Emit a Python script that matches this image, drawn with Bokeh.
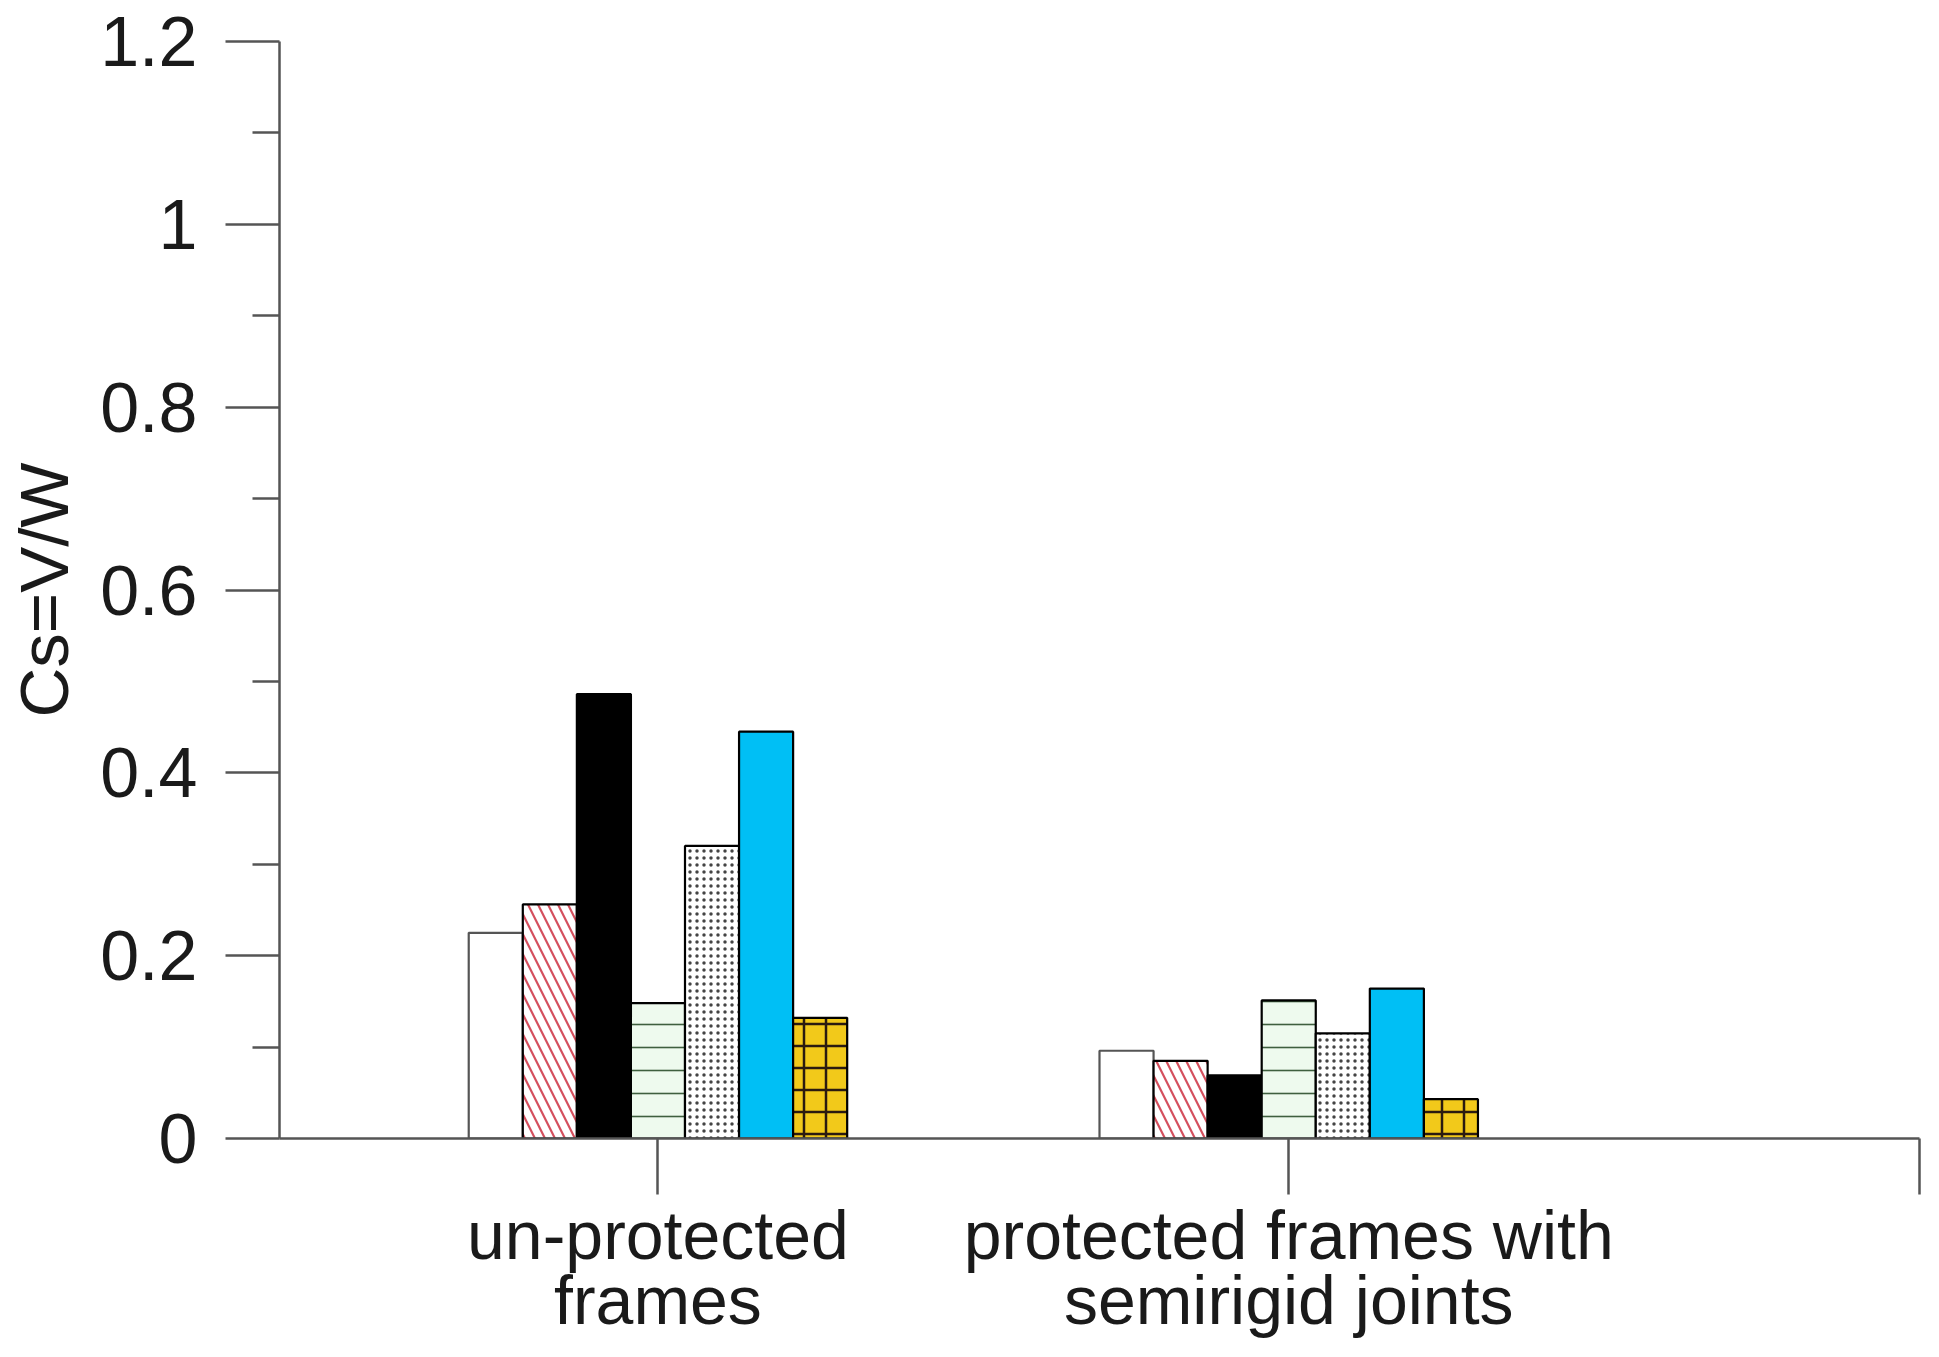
from bokeh.plotting import figure
from bokeh.models import FixedTicker, NumeralTickFormatter, ColumnDataSource, LinearAxis
from bokeh.embed import file_html
from bokeh.resources import INLINE

categories = ["un-protected\nframes", "protected frames with\nsemirigid joints"]
cat_pos = [1, 2]
s1 = [0.225, 0.096]
s2 = [0.256, 0.085]
s3 = [0.486, 0.069]
s4 = [0.148, 0.151]
s5 = [0.320, 0.115]
s6 = [0.445, 0.164]
s7 = [0.132, 0.043]
series = [s1, s2, s3, s4, s5, s6, s7]
y_ticks = [0, 0.2, 0.4, 0.6, 0.8, 1.0, 1.2]
y_minor = [0.1, 0.3, 0.5, 0.7, 0.9, 1.1]
x_ticks = [1, 2, 3]

styles = [
    dict(fill_color="white", line_color="#555555"),
    dict(fill_color="white", hatch_pattern="\\", hatch_color="#d4505e", hatch_scale=20, hatch_weight=2.2),
    dict(fill_color="black"),
    dict(fill_color="#eefaee", hatch_pattern="-", hatch_color="#3f5f3f", hatch_scale=23, hatch_weight=1.6),
    dict(fill_color="white", hatch_pattern=".", hatch_color="#444444", hatch_scale=7, hatch_weight=1.8),
    dict(fill_color="#00bff5"),
    dict(fill_color="#f2c91a", hatch_pattern="+", hatch_color="#2a1a10", hatch_scale=22, hatch_weight=2.5),
]

p = figure(width=1923, height=1341, x_range=(0.4, 3.0), y_range=(0, 1.2),
           output_backend="svg", toolbar_location=None,
           min_border_left=279, min_border_right=4, min_border_top=41, min_border_bottom=203)
p.outline_line_color = None
p.grid.visible = False
p.background_fill_color = "white"

group_w = 0.6
bw = group_w / len(series)
for i, vals in enumerate(series):
    off = (i - (len(series) - 1) / 2) * bw
    src = ColumnDataSource(dict(x=[c + off for c in cat_pos], top=vals))
    st = dict(line_color="black", line_width=2.2)
    st.update(styles[i])
    p.vbar(x="x", top="top", bottom=0, width=bw, source=src, **st)

font = "Liberation Sans"
# y axis
ya = p.yaxis[0]
ya.ticker = FixedTicker(ticks=y_ticks, minor_ticks=y_minor)
ya.formatter = NumeralTickFormatter(format="0.[0]")
ya.axis_label = "Cs=V/W"
ya.axis_label_text_font = font
ya.axis_label_text_font_style = "normal"
ya.axis_label_text_font_size = "69px"
ya.axis_label_text_color = "#1a1a1a"
ya.axis_label_standoff = 14
ya.major_label_text_font = font
ya.major_label_text_font_size = "70px"
ya.major_label_text_color = "#1a1a1a"
ya.major_label_standoff = 28
ya.major_tick_out = 54
ya.major_tick_in = 0
ya.minor_tick_out = 27
ya.minor_tick_in = 0
ya.axis_line_color = "#555555"
ya.axis_line_width = 2.5
ya.major_tick_line_color = "#555555"
ya.major_tick_line_width = 2.5
ya.minor_tick_line_color = "#555555"
ya.minor_tick_line_width = 2.5

line1 = [c.split("\n")[0] for c in categories]
line2 = [c.split("\n")[1] for c in categories]

# x axis: first line of category labels
xa = p.xaxis[0]
xa.ticker = FixedTicker(ticks=x_ticks, minor_ticks=[])
xa.major_label_overrides = {1: line1[0], 2: line1[1], 3: ""}
xa.major_label_text_font = font
xa.major_label_text_font_size = "68px"
xa.major_label_text_color = "#1a1a1a"
xa.major_label_standoff = 2
xa.major_tick_out = 56
xa.major_tick_in = 0
xa.minor_tick_line_color = None
xa.axis_line_color = "#555555"
xa.axis_line_width = 2.5
xa.major_tick_line_color = "#555555"
xa.major_tick_line_width = 2.5

# second line of category labels
xa2 = LinearAxis(ticker=FixedTicker(ticks=cat_pos, minor_ticks=[]),
                 major_label_overrides={1: line2[0], 2: line2[1]})
xa2.major_label_text_font = font
xa2.major_label_text_font_size = "68px"
xa2.major_label_text_color = "#1a1a1a"
xa2.major_label_standoff = -14
xa2.major_tick_out = 0
xa2.major_tick_in = 0
xa2.major_tick_line_color = None
xa2.minor_tick_line_color = None
xa2.axis_line_color = None
p.add_layout(xa2, "below")

open("out.html", "w").write(file_html(p, INLINE))
